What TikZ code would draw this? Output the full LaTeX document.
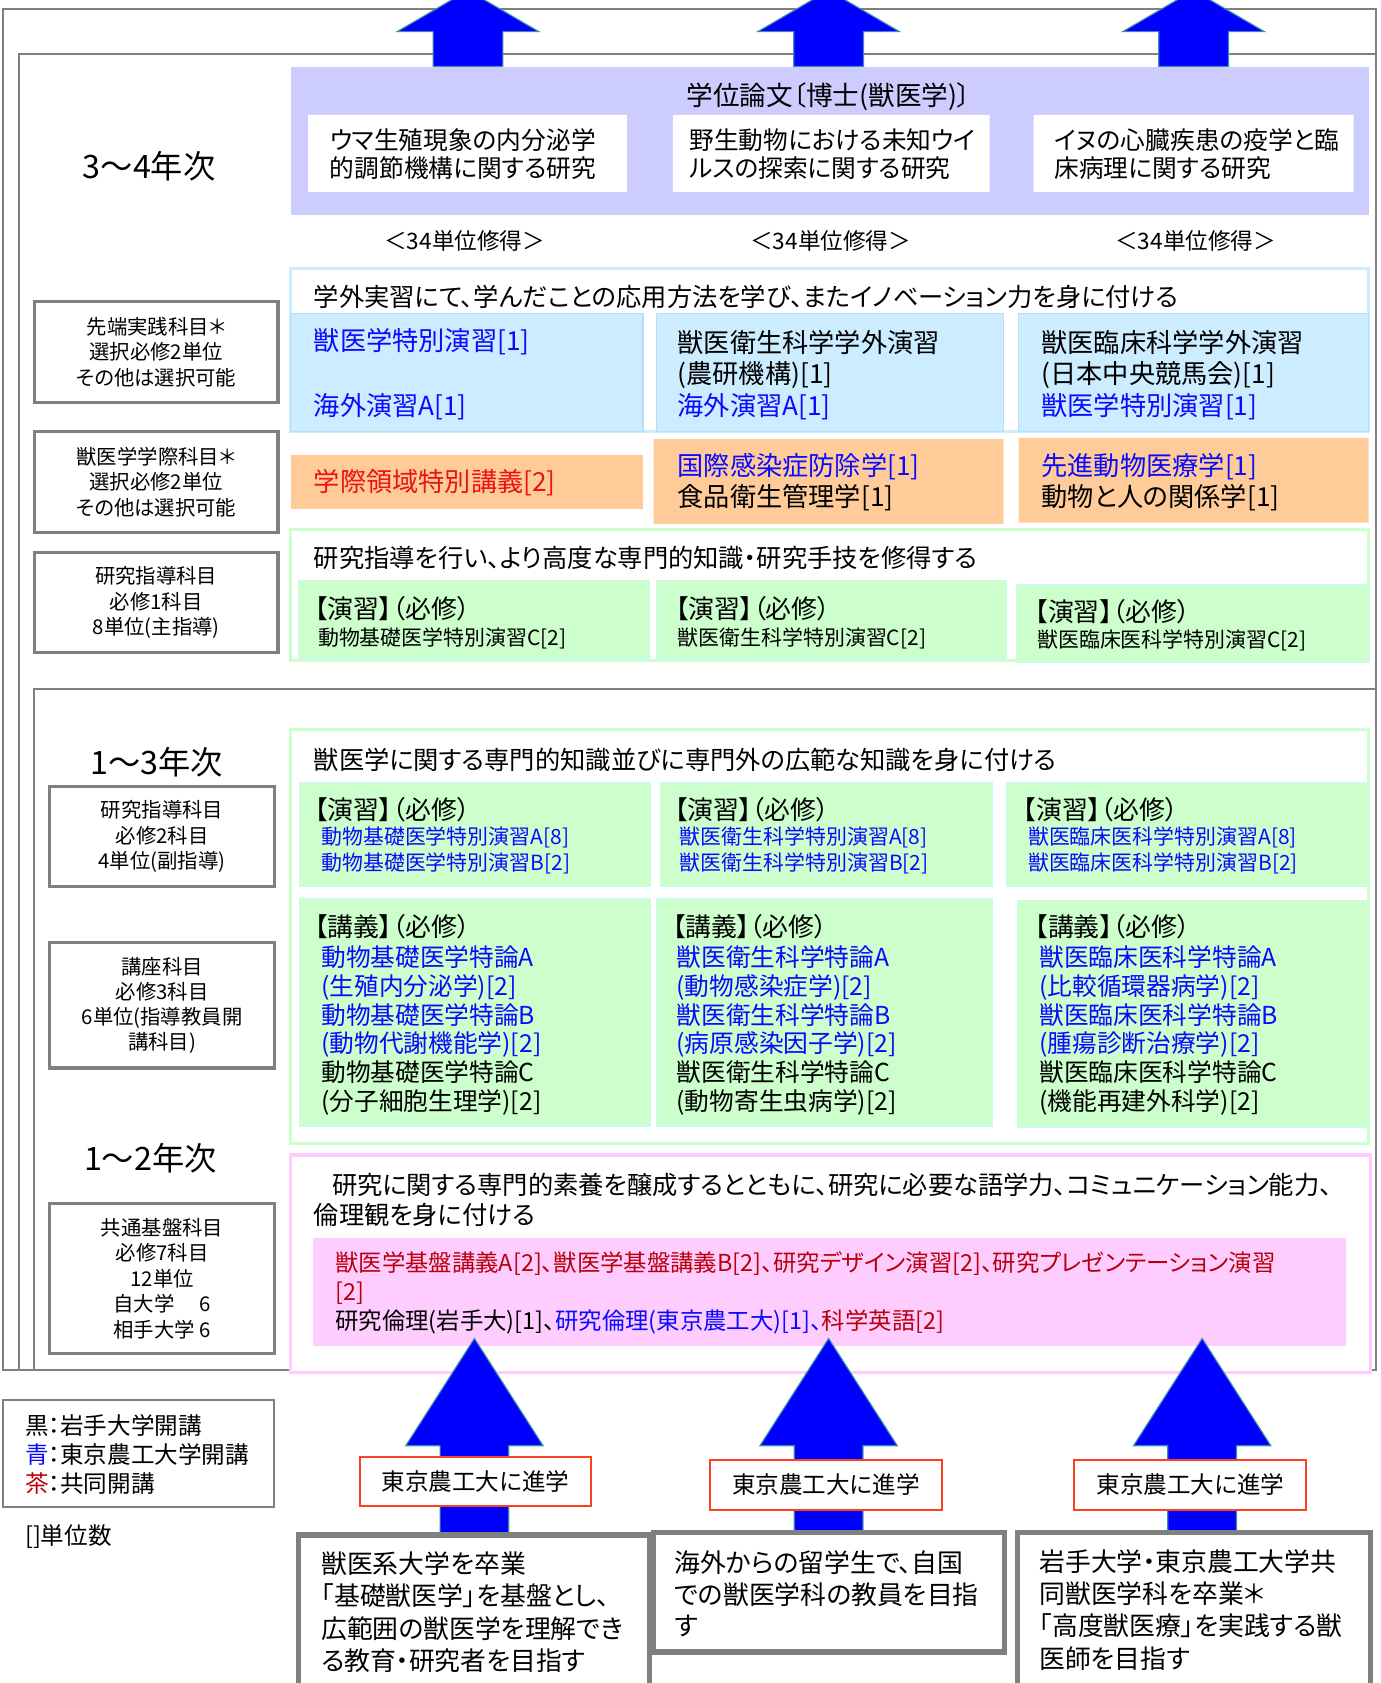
\documentclass[tikz,border=0pt]{standalone}
\usepackage{fontspec}
\setmainfont{Noto Sans CJK JP}[RawFeature=+palt]

\definecolor{lavbg}{RGB}{204,204,255}
\definecolor{skybg}{RGB}{204,236,255}
\definecolor{skyedge}{RGB}{185,222,240}
\definecolor{orabg}{RGB}{255,204,153}
\definecolor{grnbg}{RGB}{204,255,204}
\definecolor{grnedge}{RGB}{200,250,240}
\definecolor{pnkbg}{RGB}{255,204,255}
\definecolor{gridgray}{RGB}{128,128,128}
\definecolor{arrowblue}{RGB}{0,0,255}
\definecolor{arrowedge}{RGB}{60,140,170}
\definecolor{labelred}{RGB}{255,64,32}
\definecolor{txblue}{RGB}{10,10,255}
\definecolor{txred}{RGB}{235,20,20}
\definecolor{txbrown}{RGB}{185,0,10}

\newcommand\fsz[2]{\fontsize{#1pt}{#2pt}\selectfont}
\newcommand\blu{\color{txblue}}
\newcommand\brn{\color{txbrown}}

\tikzset{
  txt/.style={anchor=west, inner sep=0pt, align=left},
  yearlbl/.style={font=\fsz{17.1}{20}},
  sectitle/.style={txt, font=\fsz{13.4}{16}},
  cellitem/.style={txt, font=\fsz{13.9}{16.8}},
  cellhead/.style={txt, font=\fsz{13.7}{15}},
  itemsm/.style={txt, font=\fsz{11.1}{13.7}},
  lect/.style={txt, font=\fsz{13.1}{15.2}},
  kindbox/.style={draw=gridgray, line width=1.7pt, align=center, inner sep=0pt, font=\fsz{10.8}{13.6}},
  outerframe/.style={draw=gridgray, line width=1.1pt},
  bigarrow/.style={fill=arrowblue, draw=arrowedge, line width=0.6pt},
  gobox/.style={draw=labelred, line width=1.1pt, fill=white, font=\fsz{12.5}{15}, minimum width=4.32cm, minimum height=0.92cm, inner sep=0pt},
  goalbox/.style={draw=gridgray, line width=2.8pt, fill=white},
}

\begin{document}
\begin{tikzpicture}[x=0.02cm, y=-0.02cm]
\useasboundingbox (0,0) rectangle (1286,1568);
\clip (0,0) rectangle (1286,1568);

% frames
\draw[outerframe] (3,8) rectangle (1282,1276);
\draw[outerframe] (18,50) rectangle (1282,1276);
\draw[outerframe] (32,642) rectangle (1282,1276);

\foreach \cx in {436,772,1112}
  \draw[bigarrow] (\cx,-9) -- ++(66,38.5) -- ++(-33.5,0) -- ++(0,32.5) -- ++(-65,0) -- ++(0,-32.5) -- ++(-33.5,0) -- cycle;

% 3~4
\node[yearlbl] (y34) at (139,155) {3～4年次};
\fill[lavbg] (271,62) rectangle (1275,200);
\node[font=\fsz{14.1}{16}] (thesis) at (772,90) {学位論文〔博士(獣医学)〕};
\fill[white] (287,107) rectangle (584,179) (627,107) rectangle (922,179) (963,107) rectangle (1261,179);
\node[txt, font=\fsz{13.1}{14.8}] (th1) at (307,143.5) {ウマ生殖現象の内分泌学\\的調節機構に関する研究};
\node[txt, font=\fsz{13.1}{14.8}] (th2) at (642,143.5) {野生動物における未知ウイ\\ルスの探索に関する研究};
\node[txt, font=\fsz{13.1}{14.8}] (th3) at (982,143.5) {イヌの心臓疾患の疫学と臨\\床病理に関する研究};
\foreach \cx/\nm in {433/u1,774/u2,1114/u3}
  \node[font=\fsz{12}{14}] (\nm) at (\cx,224) {＜34単位修得＞};

\draw[skybg, line width=1.7pt, fill=white] (271,250) rectangle (1275,402);
\filldraw[fill=skybg, draw=skyedge, line width=0.6pt] (271,292) rectangle (599,402) (612,292) rectangle (935,402) (949,292) rectangle (1275,402);
\node[sectitle] (advt) at (292,276.5) {学外実習にて、学んだことの応用方法を学び、またイノベーション力を身に付ける};
\node[cellitem, text=txblue] (adv1a) at (292,318.5) {獣医学特別演習[1]};
\node[cellitem, text=txblue] (adv1b) at (292,379) {海外演習A[1]};
\node[cellitem] (adv2) at (631,349.5) {獣医衛生科学学外演習\\(農研機構)[1]\\{\blu 海外演習A[1]}};
\node[cellitem] (adv3) at (970,349.5) {獣医臨床科学学外演習\\(日本中央競馬会)[1]\\{\blu 獣医学特別演習[1]}};

\fill[orabg] (271,424) rectangle (599,474) (609,409) rectangle (935,488) (949,408) rectangle (1275,487);
\node[cellitem, text=txred] (int1) at (292,450) {学際領域特別講義[2]};
\node[cellitem, font=\fsz{13.9}{16.5}] (int2) at (631,449.5) {{\blu 国際感染症防除学[1]}\\食品衛生管理学[1]};
\node[cellitem, font=\fsz{13.9}{16.5}] (int3) at (970,449.5) {{\blu 先進動物医療学[1]}\\動物と人の関係学[1]};

\draw[grnbg, line width=1.7pt, fill=white] (271,493) rectangle (1275,615);
\filldraw[fill=grnbg, draw=grnedge, line width=0.6pt] (278,541) rectangle (605,613) (612,541) rectangle (938,613) (947,545) rectangle (1275,617);
\node[sectitle] (rest) at (292,520) {研究指導を行い、より高度な専門的知識・研究手技を修得する};
\node[cellhead] (res1h) at (293,567) {【演習】（必修）};
\node[itemsm] (res1) at (296,594.5) {動物基礎医学特別演習C[2]};
\node[cellhead] (res2h) at (629,567) {【演習】（必修）};
\node[itemsm] (res2) at (631,594.5) {獣医衛生科学特別演習C[2]};
\node[cellhead] (res3h) at (964,570) {【演習】（必修）};
\node[itemsm] (res3) at (966,596.5) {獣医臨床医科学特別演習C[2]};

\node[kindbox, minimum width=4.54cm, minimum height=1.88cm] (kA) at (145.5,328) {先端実践科目＊\\選択必修2単位\\その他は選択可能};
\node[kindbox, minimum width=4.54cm, minimum height=1.88cm] (kB) at (145.5,449) {獣医学学際科目＊\\選択必修2単位\\その他は選択可能};
\node[kindbox, minimum width=4.54cm, minimum height=1.86cm] (kC) at (145.5,561.5) {研究指導科目\\必修1科目\\8単位(主指導)};

% 1~3
\node[yearlbl] (y13) at (146,710) {1～3年次};
\node[kindbox, minimum width=4.2cm, minimum height=1.86cm] (kD) at (151,779.5) {研究指導科目\\必修2科目\\4単位(副指導)};
\node[kindbox, minimum width=4.2cm, minimum height=2.34cm, font=\fsz{10.8}{13.3}] (kE) at (151,936.5) {講座科目\\必修3科目\\6単位(指導教員開\\講科目)};

\draw[grnbg, line width=1.7pt, fill=white] (271,680) rectangle (1275,1065);
\filldraw[fill=grnbg, draw=grnedge, line width=0.6pt] (279,729) rectangle (606,826) (615,729) rectangle (925,826) (938,729) rectangle (1275,826)
  (279,837) rectangle (606,1049) (612,837) rectangle (925,1049) (948,839) rectangle (1275,1050);
\node[sectitle] (spt) at (292,708) {獣医学に関する専門的知識並びに専門外の広範な知識を身に付ける};
\node[cellhead] (sp1h) at (293,754) {【演習】（必修）};
\node[itemsm, text=txblue] (sp1) at (299,792) {動物基礎医学特別演習A[8]\\動物基礎医学特別演習B[2]};
\node[cellhead] (sp2h) at (628,754) {【演習】（必修）};
\node[itemsm, text=txblue] (sp2) at (633,792) {獣医衛生科学特別演習A[8]\\獣医衛生科学特別演習B[2]};
\node[cellhead] (sp3h) at (953,754) {【演習】（必修）};
\node[itemsm, text=txblue] (sp3) at (957.5,792) {獣医臨床医科学特別演習A[8]\\獣医臨床医科学特別演習B[2]};

\node[cellhead] (lc1h) at (293,863.5) {【講義】（必修）};
\node[lect] (lc1) at (299,960) {{\blu 動物基礎医学特論A}\\{\blu (生殖内分泌学)[2]}\\{\blu 動物基礎医学特論B}\\{\blu (動物代謝機能学)[2]}\\動物基礎医学特論C\\(分子細胞生理学)[2]};
\node[cellhead] (lc2h) at (626,863.5) {【講義】（必修）};
\node[lect] (lc2) at (630,960) {{\blu 獣医衛生科学特論A}\\{\blu (動物感染症学)[2]}\\{\blu 獣医衛生科学特論B}\\{\blu (病原感染因子学)[2]}\\獣医衛生科学特論C\\(動物寄生虫病学)[2]};
\node[cellhead] (lc3h) at (964,863.5) {【講義】（必修）};
\node[lect] (lc3) at (968,960) {{\blu 獣医臨床医科学特論A}\\{\blu (比較循環器病学)[2]}\\{\blu 獣医臨床医科学特論B}\\{\blu (腫瘍診断治療学)[2]}\\獣医臨床医科学特論C\\(機能再建外科学)[2]};

% 1~2
\node[yearlbl] (y12) at (140,1079) {1～2年次};
\node[kindbox, minimum width=4.2cm, minimum height=2.8cm, font=\fsz{10.8}{13.5}] (kF) at (151,1191) {共通基盤科目\\必修7科目\\12単位\\自大学\hspace{1em} 6\\相手大学 6};

\draw[pnkbg, line width=1.7pt, fill=white] (271,1076) rectangle (1277,1279);
\fill[pnkbg] (292,1153) rectangle (1254,1254);
\node[sectitle] (comt1) at (309,1104) {研究に関する専門的素養を醸成するとともに、研究に必要な語学力、コミュニケーション能力、};
\node[sectitle] (comt2) at (292,1132) {倫理観を身に付ける};
\node[txt, font=\fsz{12.4}{15.6}] (com) at (312,1204.5) {{\brn 獣医学基盤講義A[2]、獣医学基盤講義B[2]、研究デザイン演習[2]、研究プレゼンテーション演習}\\{\brn [2]}\\研究倫理(岩手大)[1]、{\blu 研究倫理(東京農工大)[1]、}{\brn 科学英語[2]}};

% entry
\foreach \cx in {442,772,1120}
  \draw[bigarrow] (\cx,1247) -- ++(64,100) -- ++(-32,0) -- ++(0,85) -- ++(-64,0) -- ++(0,-85) -- ++(-32,0) -- cycle;
\node[gobox] (go1) at (443,1380) {東京農工大に進学};
\node[gobox] (go2) at (769.5,1383.5) {東京農工大に進学};
\node[gobox] (go3) at (1109,1383.5) {東京農工大に進学};

\draw[goalbox] (278,1575) |- (605,1430) -- (605,1575);
\draw[goalbox] (609,1428) rectangle (936,1539);
\draw[goalbox] (948,1575) |- (1277,1428) -- (1277,1575);
\node[txt, font=\fsz{13.7}{17}] (st1) at (299,1502) {獣医系大学を卒業\\「基礎獣医学」を基盤とし、\\広範囲の獣医学を理解でき\\る教育・研究者を目指す};
\node[txt, font=\fsz{13.7}{16.8}] (st2) at (628,1485) {海外からの留学生で、自国\\での獣医学科の教員を目指\\す};
\node[txt, font=\fsz{13.7}{17}] (st3) at (968,1500) {岩手大学・東京農工大学共\\同獣医学科を卒業＊\\「高度獣医療」を実践する獣\\医師を目指す};

\draw[gridgray, line width=0.9pt] (3,1304) rectangle (255,1404);
\node[txt, font=\fsz{12.5}{15.4}] (legend) at (23,1355) {黒：岩手大学開講\\{\blu 青}：東京農工大学開講\\{\brn 茶}：共同開講};
\node[txt, font=\fsz{12.5}{15}] (unit) at (23,1432) {[]単位数};
\end{tikzpicture}
\end{document}
